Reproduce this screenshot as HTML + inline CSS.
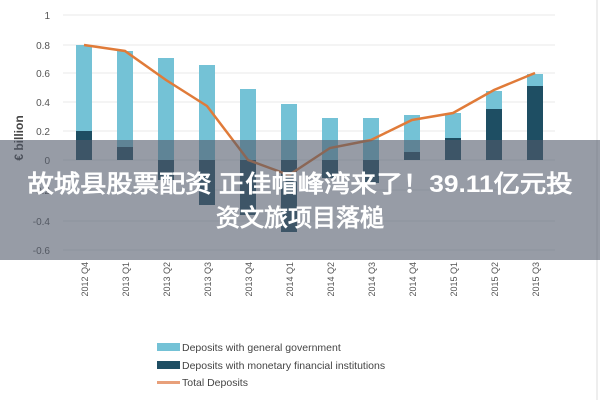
<!DOCTYPE html>
<html><head><meta charset="utf-8"><style>
body{margin:0;background:#fff;}
svg text{font-family:"Liberation Sans",sans-serif;}
</style></head><body>
<svg width="600" height="400" xmlns="http://www.w3.org/2000/svg">
<rect width="600" height="400" fill="#fff"/>
<line x1="597" y1="0" x2="597" y2="400" stroke="#ddd"/>
<g stroke="#e8e8e8" stroke-width="1">
<line x1="63" x2="555" y1="15" y2="15"/><line x1="63" x2="555" y1="45" y2="45"/>
<line x1="63" x2="555" y1="73" y2="73"/><line x1="63" x2="555" y1="102" y2="102"/>
<line x1="63" x2="555" y1="131" y2="131"/><line x1="63" x2="555" y1="160" y2="160"/>
<line x1="63" x2="555" y1="190" y2="190"/><line x1="63" x2="555" y1="221" y2="221"/>
<line x1="63" x2="555" y1="250" y2="250"/>
</g>
<g font-size="10" fill="#555" text-anchor="end">
<text x="50" y="19">1</text><text x="50" y="49">0.8</text><text x="50" y="77">0.6</text>
<text x="50" y="106">0.4</text><text x="50" y="135">0.2</text><text x="50" y="164">0</text>
<text x="50" y="194">-0.2</text><text x="50" y="225">-0.4</text><text x="50" y="254">-0.6</text>
</g>
<text transform="translate(23,138) rotate(-90)" font-size="12" font-weight="bold" fill="#444" text-anchor="middle">€ billion</text>
<g fill="#74c2d6">
<rect x="76" y="45" width="16" height="86"/>
<rect x="117" y="51" width="16" height="96"/>
<rect x="158" y="58" width="16" height="102"/>
<rect x="199" y="65" width="16" height="95"/>
<rect x="240" y="89" width="16" height="71"/>
<rect x="281" y="104" width="16" height="56"/>
<rect x="322" y="118" width="16" height="42"/>
<rect x="363" y="118" width="16" height="42"/>
<rect x="404" y="115" width="16" height="37"/>
<rect x="445" y="113" width="16" height="25"/>
<rect x="486" y="91" width="16" height="18"/>
<rect x="527" y="74" width="16" height="12"/>
</g>
<g fill="#1e4e63">
<rect x="76" y="131" width="16" height="29"/>
<rect x="117" y="147" width="16" height="13"/>
<rect x="158" y="160" width="16" height="20"/>
<rect x="199" y="160" width="16" height="45"/>
<rect x="240" y="160" width="16" height="55"/>
<rect x="281" y="160" width="16" height="72"/>
<rect x="322" y="160" width="16" height="18"/>
<rect x="363" y="160" width="16" height="23"/>
<rect x="404" y="152" width="16" height="8"/>
<rect x="445" y="138" width="16" height="22"/>
<rect x="486" y="109" width="16" height="51"/>
<rect x="527" y="86" width="16" height="74"/>
</g>
<polyline fill="none" stroke="#e07b39" stroke-width="2.5" points="84,45 125,51 166,80 207,106 248,160 289,175 330,148 371,140 412,120 453,113 494,90 535,73"/>
<g font-size="9" fill="#555" text-anchor="end">
<text transform="translate(88,262) rotate(-90)">2012 Q4</text>
<text transform="translate(129,262) rotate(-90)">2013 Q1</text>
<text transform="translate(170,262) rotate(-90)">2013 Q2</text>
<text transform="translate(211,262) rotate(-90)">2013 Q3</text>
<text transform="translate(252,262) rotate(-90)">2013 Q4</text>
<text transform="translate(293,262) rotate(-90)">2014 Q1</text>
<text transform="translate(334,262) rotate(-90)">2014 Q2</text>
<text transform="translate(375,262) rotate(-90)">2014 Q3</text>
<text transform="translate(416,262) rotate(-90)">2014 Q4</text>
<text transform="translate(457,262) rotate(-90)">2015 Q1</text>
<text transform="translate(498,262) rotate(-90)">2015 Q2</text>
<text transform="translate(539,262) rotate(-90)">2015 Q3</text>
</g>
<rect x="157" y="343" width="23" height="8" fill="#74c2d6"/>
<rect x="157" y="361" width="23" height="8" fill="#1e4e63"/>
<rect x="157" y="381" width="23" height="3" fill="#e8a07a"/>
<g font-size="10.5" fill="#444">
<text x="182" y="351">Deposits with general government</text>
<text x="182" y="369">Deposits with monetary financial institutions</text>
<text x="182" y="386">Total Deposits</text>
</g>
<rect x="0" y="140" width="600" height="120" fill="rgb(82,90,106)" fill-opacity="0.6"/>
<g font-size="24" font-weight="bold" fill="#fff" text-anchor="middle" style="font-family:'Liberation Sans','Noto Sans CJK SC',sans-serif">
<text x="300" y="192" textLength="545" lengthAdjust="spacingAndGlyphs">故城县股票配资 正佳帽峰湾来了！39.11亿元投</text>
<text x="300" y="226">资文旅项目落槌</text>
</g>
</svg>
</body></html>
